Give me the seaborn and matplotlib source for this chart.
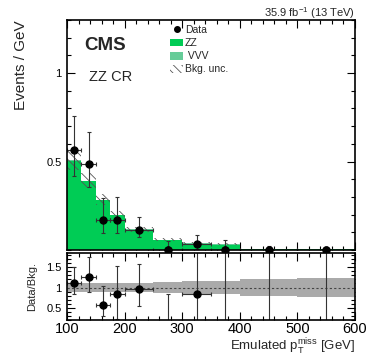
import numpy as np
import pandas as pd
import matplotlib
matplotlib.use("Agg")
import matplotlib.pyplot as plt
import seaborn as sns
from matplotlib.lines import Line2D
from matplotlib.patches import Patch
from matplotlib.ticker import MultipleLocator

# Binning (GeV)
bin_edges = [100, 125, 150, 175, 200, 250, 300, 350, 400, 500, 600]

# Backgrounds, events / GeV
zz_vals = [0.502, 0.388, 0.280, 0.195, 0.115, 0.056, 0.036, 0.031, 0.006, 0.004]
vvv_vals = [0.004, 0.003, 0.003, 0.002, 0.002, 0.002, 0.003, 0.002, 0.001, 0.001]
bkg_rel_unc = [0.11, 0.11, 0.11, 0.12, 0.12, 0.13, 0.15, 0.16, 0.20, 0.24]

# Data, events / GeV
data_vals = [0.567, 0.487, 0.172, 0.172, 0.115, 0.0, 0.034, 0.0, 0.0, 0.0]
data_err_up = [0.19, 0.18, 0.12, 0.125, 0.07, 0.052, 0.05, 0.054, 0.02, 0.018]
data_err_dn = [0.15, 0.13, 0.074, 0.074, 0.041, 0.0, 0.028, 0.0, 0.0, 0.0]

# Data / Bkg.
ratio_vals = [1.10, 1.27, 0.58, 0.85, 0.96, 0.0, 0.84, 0.0, 0.0, 0.0]
ratio_err_up = [0.41, 0.48, 0.46, 0.67, 0.63, 0.83, 3.0, 3.0, 3.0, 3.0]
ratio_err_dn = [0.27, 0.38, 0.28, 0.63, 0.42, 0.0, 0.84, 0.0, 0.0, 0.0]

zz_color = "#00cc55"
vvv_color = "#66cc99"

sns.set_theme(style="ticks")
plt.rcParams["font.family"] = ["Liberation Sans", "DejaVu Sans"]
plt.rcParams["mathtext.fontset"] = "custom"
plt.rcParams["mathtext.rm"] = "Liberation Sans"
plt.rcParams["mathtext.it"] = "Liberation Sans:italic"
plt.rcParams["hatch.linewidth"] = 0.6

edges = np.array(bin_edges, dtype=float)
centers = 0.5 * (edges[1:] + edges[:-1])
half_w = 0.5 * np.diff(edges)
total = np.array(zz_vals) + np.array(vvv_vals)
rel = np.array(bkg_rel_unc)

df = pd.DataFrame({
    "pt": np.concatenate([centers, centers]),
    "w": zz_vals + vvv_vals,
    "proc": ["ZZ"] * len(centers) + ["VVV"] * len(centers),
})

fig = plt.figure(figsize=(3.74, 3.57), dpi=100)
ax1 = fig.add_axes([67 / 374, 1 - 250 / 357, 288 / 374, 230 / 357])
ax2 = fig.add_axes([67 / 374, 1 - 320 / 357, 288 / 374, 67 / 357])

# stacked backgrounds (first hue level ends on top)
sns.histplot(data=df, x="pt", weights="w", hue="proc", hue_order=["VVV", "ZZ"],
             bins=list(bin_edges), multiple="stack", element="step", fill=True,
             palette={"ZZ": zz_color, "VVV": vvv_color}, alpha=1, linewidth=0,
             legend=False, ax=ax1)

# hatched bkg uncertainty
up = np.append(total * (1 + rel), total[-1] * (1 + rel[-1]))
dn = np.append(total * (1 - rel), total[-1] * (1 - rel[-1]))
ax1.fill_between(edges, dn, up, step="post", facecolor="none",
                 edgecolor="#555555", hatch="\\\\\\\\", linewidth=0)

# data
ax1.errorbar(centers, data_vals, yerr=[data_err_dn, data_err_up], xerr=half_w,
             fmt="o", color="black", ecolor="#333333", ms=5, elinewidth=0.8,
             capsize=1.5, capthick=0.8)
zero = np.array(data_vals) == 0
ax1.plot(centers[zero], np.array(data_vals)[zero], "o", color="black", ms=5,
         clip_on=False, zorder=5)

ax1.set_xlim(100, 600)
ax1.set_ylim(0, 1.3)
ax1.set_yticks([0.5, 1.0], ["0.5", "1"])
ax1.yaxis.set_minor_locator(MultipleLocator(0.1))
ax1.xaxis.set_major_locator(MultipleLocator(100))
ax1.xaxis.set_minor_locator(MultipleLocator(20))
ax1.tick_params(labelbottom=False)
ax1.set_xlabel("")
ax1.set_ylabel("Events / GeV", fontsize=11, loc="top")
ax1.yaxis.set_label_coords(-0.135, 1.0)

ax1.text(0.06, 0.89, "CMS", transform=ax1.transAxes, fontsize=13.5,
         fontweight="bold", va="center")
ax1.text(0.075, 0.75, "ZZ CR", transform=ax1.transAxes, fontsize=10.5, va="center")
fig.text(355 / 374, 1 - 13 / 357, r"35.9 fb$^{-1}$ (13 TeV)", fontsize=8,
         ha="right", va="center")

handles = [
    Line2D([], [], marker="o", color="black", ls="none", ms=4),
    Patch(facecolor=zz_color, edgecolor="none"),
    Patch(facecolor=vvv_color, edgecolor="none"),
    Patch(facecolor="none", edgecolor="#555555", hatch="\\\\\\\\", linewidth=0),
]
fig.legend(handles, ["Data", "ZZ", " VVV", "Bkg. unc."], loc="upper left",
           bbox_to_anchor=(170 / 374, 1 - 25 / 357), frameon=False, fontsize=7.5,
           borderpad=0, borderaxespad=0, handlelength=1.25, handleheight=0.8,
           handletextpad=0.2, labelspacing=0.3)

# ratio panel
band_up = np.append(1 + rel, 1 + rel[-1])
band_dn = np.append(1 - rel, 1 - rel[-1])
ax2.fill_between(edges, band_dn, band_up, step="post", color="#aaaaaa", linewidth=0)
ax2.axhline(1, ls=(0, (2, 2)), color="#444444", lw=0.8)
ax2.errorbar(centers, ratio_vals, yerr=[ratio_err_dn, ratio_err_up], xerr=half_w,
             fmt="o", color="black", ecolor="#333333", ms=5, elinewidth=0.8,
             capsize=1.5, capthick=0.8)
ax2.set_xlim(100, 600)
ax2.set_ylim(0.2, 1.85)
ax2.set_yticks([0.5, 1.0, 1.5], ["0.5", "1", "1.5"])
ax2.yaxis.set_minor_locator(MultipleLocator(0.1))
ax2.xaxis.set_major_locator(MultipleLocator(100))
ax2.xaxis.set_minor_locator(MultipleLocator(20))
ax2.set_ylabel("Data/Bkg.", fontsize=8)
ax2.yaxis.set_label_coords(-0.105, 0.5)
ax2.set_xlabel(r"Emulated $\mathrm{p}_{\mathrm{T}}^{\mathrm{miss}}$ [GeV]",
               fontsize=9.5, loc="right")
ax2.xaxis.set_label_coords(1.0, -0.255)
ax2.xaxis.label.set_va("top")

for ax in (ax1, ax2):
    ax.tick_params(which="both", direction="in", top=True, right=True,
                   colors="black", width=0.8)
    ax.tick_params(which="major", length=6)
    ax.tick_params(which="minor", length=3)
    ax.tick_params(axis="y", labelsize=8, pad=4)
    for s in ax.spines.values():
        s.set_linewidth(1.2)
        s.set_color("black")
ax2.tick_params(axis="x", labelsize=10.5, pad=1.5)

fig.savefig("out.png", dpi=100)
